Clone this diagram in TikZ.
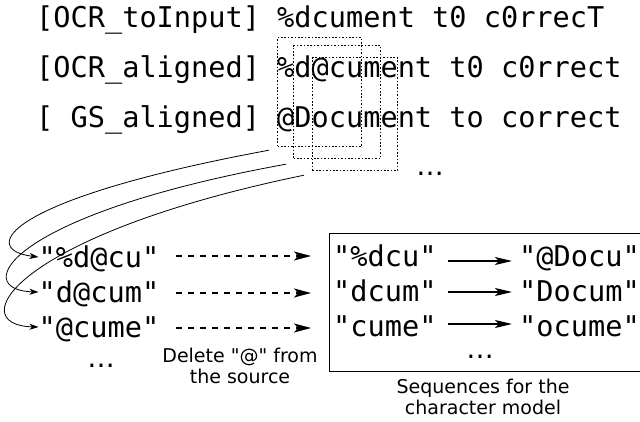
\documentclass[tikz,border=0pt]{standalone}
\usepackage{fontspec}
\setmainfont{DejaVu Sans}[Ligatures=TeXOff]
\newfontfamily\monof{DejaVu Sans Mono}[Ligatures=TeXOff]
\usetikzlibrary{arrows.meta}
\begin{document}
\begin{tikzpicture}[x=1pt,y=-1pt,
  toptxt/.style={font=\monof\fontsize{28.6}{33}\selectfont, inner sep=0pt, anchor=base west},
  seqtxt/.style={font=\monof\fontsize{28.6}{35}\selectfont, inner sep=0pt, anchor=base west},
  captxt/.style={font=\fontsize{19}{21}\selectfont, inner sep=0pt, anchor=base},
  dotstxt/.style={font=\fontsize{27.5}{33}\selectfont, inner sep=0pt, anchor=base},
  dotbox/.style={draw, line width=1.2pt, dash pattern=on 1.6pt off 1.8pt, anchor=north west, inner sep=0pt},
  curvearr/.style={line width=0.8pt, -{Stealth[length=9pt,width=6pt,inset=2.5pt]}},
  dasharr/.style={line width=1.1pt, dash pattern=on 6pt off 6pt, -{Stealth[length=17pt,width=9pt,inset=4pt]}},
  boxarr/.style={line width=1.1pt, -{Stealth[length=17pt,width=8pt,inset=4pt]}},
]
\useasboundingbox[fill=white] (0,0) rectangle (640,422);

% top aligned lines
\node[toptxt] (l1) at (36,28) {[OCR\_toInput] \%dcument t0 c0rrecT};
\node[toptxt] (l2) at (36,78) {[OCR\_aligned] \%d@cument t0 c0rrect};
\node[toptxt] (l3) at (36,128) {[ GS\_aligned] @Document to correct};

% sliding windows
\node[dotbox, minimum width=84pt, minimum height=109pt] (w1) at (277,37) {};
\node[dotbox, minimum width=87pt, minimum height=113pt] (w2) at (293,45) {};
\node[dotbox, minimum width=85pt, minimum height=113pt] (w3) at (312,57) {};
\node[dotstxt] (e1) at (430,176) {…};

% extracted windows
\node[seqtxt] (a1) at (38.5,267) {"\%d@cu"};
\node[seqtxt] (a2) at (38.5,302) {"d@cum"};
\node[seqtxt] (a3) at (38.5,337) {"@cume"};
\node[dotstxt] (e2) at (101,367) {…};

% box of sequences
\node[draw, line width=1.2pt, anchor=north west, minimum width=312pt, minimum height=138pt, inner sep=0pt] (box) at (329,233) {};
\node[seqtxt] (b1) at (333,266) {"\%dcu"};
\node[seqtxt] (b2) at (333,301) {"dcum"};
\node[seqtxt] (b3) at (333,336) {"cume"};
\node[seqtxt] (c1) at (519,266) {"@Docu"};
\node[seqtxt] (c2) at (519,301) {"Docum"};
\node[seqtxt] (c3) at (519,336) {"ocume"};
\node[dotstxt] (e3) at (480,358) {…};

% captions
\node[captxt] (d1) at (240,362) {Delete "@" from};
\node[captxt] (d2) at (240,383) {the source};
\node[captxt] (s1) at (483,393) {Sequences for the};
\node[captxt] (s2) at (483,414) {character model};

% curved connectors
\draw[curvearr] ([xshift=-8pt,yshift=-3pt]w1.south west) .. controls (0,200) and (-20,250) .. ([yshift=10pt]a1.base west);
\draw[curvearr] ([xshift=-7pt,yshift=-5pt]w2.south west) .. controls (6,215) and (-30,290) .. ([yshift=10pt]a2.base west);
\draw[curvearr] ([xshift=-8pt,yshift=-4pt]w3.south west) .. controls (14,235) and (-38,325) .. ([yshift=10pt]a3.base west);

% dashed connectors
\path ([yshift=11pt]a1.base east) coordinate (m1);
\path ([yshift=9pt]a2.base east) coordinate (m2);
\path ([yshift=9pt]a3.base east) coordinate (m3);
\draw[dasharr, shorten <=17pt, shorten >=18pt] (m1) -- (m1 -| box.west);
\draw[dasharr, shorten <=17pt, shorten >=18pt] (m2) -- (m2 -| box.west);
\draw[dasharr, shorten <=17pt, shorten >=18pt] (m3) -- (m3 -| box.west);

% arrows inside box
\path ([yshift=5pt]b1.base east) coordinate (n1);
\path ([yshift=9pt]b2.base east) coordinate (n2);
\path ([yshift=12pt]b3.base east) coordinate (n3);
\draw[boxarr, shorten <=11pt, shorten >=7pt] (n1) -- (n1 -| c1.west);
\draw[boxarr, shorten <=11pt, shorten >=7pt] (n2) -- (n2 -| c2.west);
\draw[boxarr, shorten <=11pt, shorten >=7pt] (n3) -- (n3 -| c3.west);
\end{tikzpicture}
\end{document}
